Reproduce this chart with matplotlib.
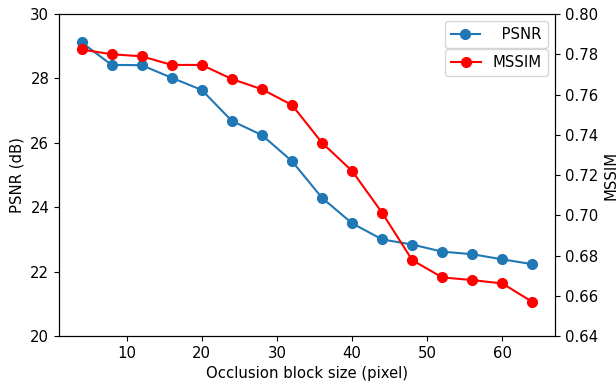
import matplotlib
matplotlib.use("Agg")
import matplotlib.pyplot as plt
import numpy as np

"""Data read off the figure"""
block_size = [4, 8, 12, 16, 20, 24, 28, 32, 36, 40, 44, 48, 52, 56, 60, 64]
psnr = [29.12, 28.42, 28.41, 28.02, 27.64, 26.68, 26.24, 25.43, 24.29,
        23.50, 23.00, 22.84, 22.62, 22.54, 22.38, 22.23]
mssim = [0.7824, 0.7800, 0.7790, 0.7747, 0.7747, 0.7677, 0.7626, 0.7548, 0.7360,
         0.7220, 0.7012, 0.6777, 0.6691, 0.6678, 0.6661, 0.6569]

plt.rcParams['font.size'] = 10.7

fig = plt.figure(figsize=(6.16, 3.83), dpi=100)
ax1 = fig.add_subplot(1, 1, 1)
fig.subplots_adjust(left=0.0958, right=0.901, top=0.9634, bottom=0.1227)

ax1.plot(block_size, psnr, marker='o', markersize=7, color='#1f77b4', label='  PSNR')
ax1.set_ylim(20, 30)
ax1.set_xlabel('Occlusion block size (pixel)')
ax1.set_ylabel('PSNR (dB)')
ax1.legend(loc='upper right')

ax2 = ax1.twinx()
ax2.plot(block_size, mssim, marker='o', markersize=7, color='red', label='MSSIM')
ax2.set_ylim(0.64, 0.80)
ax2.set_ylabel('MSSIM')
ax2.legend(loc='upper right', bbox_to_anchor=(1, 0.915))

fig.savefig('out.png', dpi=100)
